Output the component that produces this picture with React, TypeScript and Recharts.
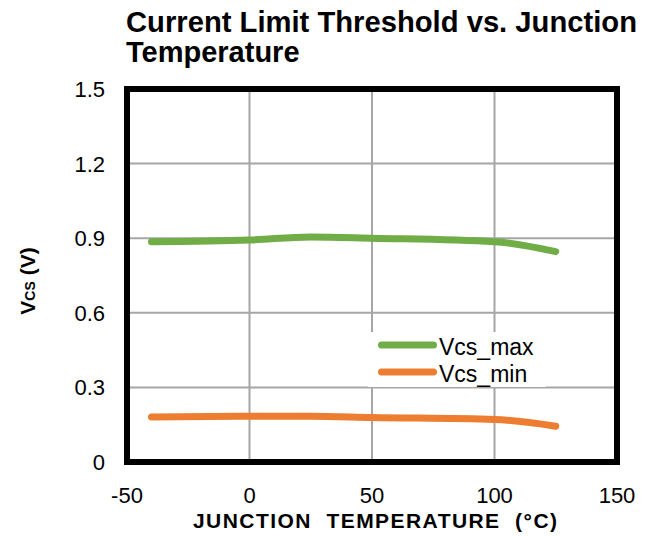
import React from 'react'
import { LineChart, Line, CartesianGrid, XAxis, YAxis, ReferenceArea } from 'recharts'

const temps = [-40, 0, 25, 50, 100, 125]
const vcsMax = [0.886, 0.893, 0.905, 0.9, 0.886, 0.846]
const vcsMin = [0.181, 0.184, 0.184, 0.179, 0.171, 0.144]
const xTicks = [-50, 0, 50, 100, 150]
const yTicks = [0, 0.3, 0.6, 0.9, 1.2, 1.5]

const data = temps.map((t, i) => ({ temp: t, Vcs_max: vcsMax[i], Vcs_min: vcsMin[i] }))

const FONT = '"Liberation Sans", Arial, sans-serif'

const XTick = ({ x, y, payload }: any) => (
  <text x={x} y={y + 41} textAnchor="middle" fontFamily={FONT} fontSize={22} fill="#000">
    {payload.value}
  </text>
)

const YTick = ({ x, y, payload }: any) => (
  <text x={x - 22} y={y + 8} textAnchor="end" fontFamily={FONT} fontSize={22} fill="#000">
    {payload.value === 0 ? '0' : payload.value.toFixed(1)}
  </text>
)

// legend drawn outside the chart so it does not shrink the plot area
const LegendBox = () => (
  <svg width={178} height={55} style={{ position: 'absolute', left: 368, top: 332, background: '#fff' }}>
    <line x1={13.5} y1={13} x2={65.5} y2={13} stroke="#70ad47" strokeWidth={7} strokeLinecap="round" />
    <text x={71} y={23} fontFamily={FONT} fontSize={23} fill="#000">Vcs_max</text>
    <line x1={13.5} y1={40} x2={65.5} y2={40} stroke="#ed7d31" strokeWidth={7} strokeLinecap="round" />
    <text x={71} y={50} fontFamily={FONT} fontSize={23} fill="#000">Vcs_min</text>
  </svg>
)

export default function App() {
  return (
    <div style={{ position: 'absolute', left: 0, top: 0, width: 652, height: 536, background: '#fff' }}>
      <LineChart width={652} height={536} data={data} margin={{ top: 89, right: 35, bottom: 0, left: 0 }}>
        <CartesianGrid stroke="#a6a6a6" strokeWidth={2} />
        <XAxis
          dataKey="temp"
          type="number"
          domain={[-50, 150]}
          ticks={xTicks}
          axisLine={false}
          tickLine={false}
          tickSize={0}
          tickMargin={0}
          height={74}
          tick={<XTick />}
          interval={0}
        />
        <YAxis
          type="number"
          domain={[0, 1.5]}
          ticks={yTicks}
          axisLine={false}
          tickLine={false}
          tickSize={0}
          tickMargin={0}
          width={127}
          tick={<YTick />}
          interval={0}
        />
        <ReferenceArea x1={-50} x2={150} y1={0} y2={1.5} fill="none" stroke="#000" strokeWidth={6} />
        <Line type="monotone" dataKey="Vcs_max" stroke="#70ad47" strokeWidth={7} strokeLinecap="round" dot={false} isAnimationActive={false} />
        <Line type="monotone" dataKey="Vcs_min" stroke="#ed7d31" strokeWidth={7} strokeLinecap="round" dot={false} isAnimationActive={false} />
      </LineChart>
      <LegendBox />
      <svg width={652} height={536} style={{ position: 'absolute', left: 0, top: 0, pointerEvents: 'none' }}>
        <text x={126} y={32} fontFamily={FONT} fontSize={29} fontWeight="bold" fill="#000" textLength={511} lengthAdjust="spacingAndGlyphs">
          Current Limit Threshold vs. Junction
        </text>
        <text x={126} y={62} fontFamily={FONT} fontSize={29} fontWeight="bold" fill="#000">
          Temperature
        </text>
        <text
          x={193}
          y={528}
          fontFamily={FONT}
          fontSize={21}
          fontWeight="bold"
          fill="#000"
          textLength={364}
          lengthAdjust="spacing"
          style={{ whiteSpace: 'pre' }}
        >
          JUNCTION  TEMPERATURE  (°C)
        </text>
        <text transform="translate(35,281) rotate(-90)" textAnchor="middle" fontFamily={FONT} fontWeight="bold" fill="#000">
          <tspan fontSize={21}>V</tspan>
          <tspan fontSize={14}>CS</tspan>
          <tspan fontSize={21} style={{ whiteSpace: 'pre' }}> (V)</tspan>
        </text>
      </svg>
    </div>
  )
}
